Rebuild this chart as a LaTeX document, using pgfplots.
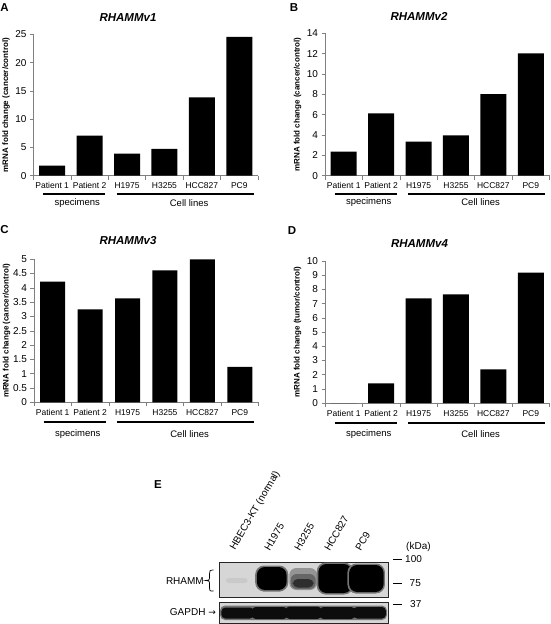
\documentclass[border=0pt]{standalone}
\usepackage{pgfplots}
\pgfplotsset{compat=1.18}
\usepackage{fontspec}
\setmainfont{Liberation Sans}
\newfontfamily\dejavu{DejaVu Sans}
\newcommand{\fs}[1]{\fontsize{#1}{#1}\selectfont}
\pgfplotsset{
  bc/.style={
    scale only axis, width=224.5pt, height=142pt, anchor=south west,
    xmin=-0.5, xmax=5.5, ymin=0,
    axis x line*=bottom, axis y line*=left,
    axis line style={draw=black!50, line width=0.6pt},
    tick align=outside,
    xtick={0,...,5},
    xticklabels={Patient 1,Patient 2,H1975,H3255,HCC827,PC9},
    major x tick style={draw=none},
    minor xtick={-0.5,0.5,...,5.5},
    minor x tick style={draw=black!50, line width=0.6pt},
    minor tick length=4pt,
    major tick length=3.5pt,
    ytick style={draw=black!50, line width=0.6pt},
    /pgf/number format/assume math mode=true,
    yticklabel style={font=\fs{10}, text=black},
    xticklabel style={font=\fs{8.5}, anchor=base, yshift=-9.5pt},
    every axis y label/.style={at={(axis description cs:-0.122,0.5)}, rotate=90, anchor=center,
      font=\bfseries\fs{8}},
    clip=false,
    ybar, bar width=26pt,
  },
  bar/.style={fill=black, draw=none},
}
\newcommand{\groups}[2]{%
  \draw[line width=1.8pt] ([yshift=-#1pt]axis cs:-0.24,0) -- ([yshift=-#1pt]axis cs:1.42,0);
  \draw[line width=1.8pt] ([yshift=-#1pt]axis cs:1.72,0) -- ([yshift=-#1pt]axis cs:5.38,0);
  \node[font=\fs{9.5}] at ([yshift=-#2pt]axis cs:0.67,0) {specimens};
  \node[font=\fs{9.5}] at ([yshift=-#2pt]axis cs:3.66,0) {Cell lines};
}
\begin{document}
\begin{tikzpicture}[x=1pt,y=1pt]
\useasboundingbox (0pt,0pt) rectangle (550pt,-624pt);

% ---------- A ----------
\begin{axis}[bc, at={(33.5pt,-175.7pt)}, height=141.4pt, ymax=25, ytick={0,5,...,25},
  ylabel={mRNA fold change (cancer/control)}]
\addplot[bar] coordinates {(0,1.8) (1,7.1) (2,3.9) (3,4.75) (4,13.85) (5,24.55)};
\groups{18.3}{27.6}
\end{axis}

% ---------- B ----------
\begin{axis}[bc, at={(325pt,-175.7pt)}, height=142.4pt, ymax=14, ytick={0,2,...,14},
  ylabel={mRNA fold change (cancer/control)}]
\addplot[bar] coordinates {(0,2.36) (1,6.13) (2,3.34) (3,3.97) (4,8.02) (5,12.03)};
\groups{18.6}{26.8}
\end{axis}

% ---------- C ----------
\begin{axis}[bc, at={(34pt,-402.3pt)}, height=143pt, bar width=25pt, ymax=5, ytick={0,0.5,...,5},
  ylabel={mRNA fold change (cancer/control)}]
\addplot[bar] coordinates {(0,4.22) (1,3.25) (2,3.63) (3,4.61) (4,5.0) (5,1.24)};
\groups{20}{31.3}
\end{axis}

% ---------- D ----------
\begin{axis}[bc, at={(325pt,-403pt)}, height=142pt, ymax=10, ytick={0,1,...,10},
  ylabel={mRNA fold change (tumor/control)}]
\addplot[bar] coordinates {(0,0) (1,1.39) (2,7.37) (3,7.65) (4,2.37) (5,9.18)};
\groups{19.7}{31}
\end{axis}

% titles and panel letters
\node[font=\bfseries\itshape\fs{11.5}] at (128pt,-17.5pt) {RHAMMv1};
\node[font=\bfseries\itshape\fs{11.5}] at (419pt,-16pt) {RHAMMv2};
\node[font=\bfseries\itshape\fs{11.5}] at (128pt,-240.5pt) {RHAMMv3};
\node[font=\bfseries\itshape\fs{11.5}] at (419.5pt,-244pt) {RHAMMv4};
\node[font=\bfseries\fs{11.5}] at (4.5pt,-7.5pt) {A};
\node[font=\bfseries\fs{11.5}] at (294pt,-7.5pt) {B};
\node[font=\bfseries\fs{11.5}] at (4.5pt,-229.5pt) {C};
\node[font=\bfseries\fs{11.5}] at (292pt,-231pt) {D};
\node[font=\bfseries\fs{11.5}] at (158pt,-485pt) {E};

% ---------- E : RHAMM blot ----------
\begin{axis}[scale only axis, width=169pt, height=35pt, at={(219pt,-597pt)}, anchor=south west,
  xmin=0, xmax=5, ymin=0, ymax=35, xtick=\empty, ytick=\empty,
  axis line style={draw=black!85, line width=0.8pt},
  axis background/.style={fill=black!16}, clip=true]
\addplot[fill=black!21, draw=none, rounded corners=3pt] coordinates {(0.5,14)(0.85,14)(0.85,19)(0.2,19)(0.2,14)} -- cycle;
% H1975
\addplot[fill=black!55, draw=none, rounded corners=9pt] coordinates {(1.56,5.5)(2.05,5.5)(2.05,31.5)(1.07,31.5)(1.07,5.5)} -- cycle;
\addplot[fill=black, draw=none, rounded corners=8pt] coordinates {(1.56,7)(2.0,7)(2.0,30)(1.12,30)(1.12,7)} -- cycle;
% H3255
\addplot[fill=black!42, draw=none, rounded corners=7pt] coordinates {(2.5,7)(2.9,7)(2.9,29)(2.08,29)(2.08,7)} -- cycle;
\addplot[fill=black!60, draw=none, rounded corners=6pt] coordinates {(2.5,8)(2.86,8)(2.86,23)(2.12,23)(2.12,8)} -- cycle;
\addplot[fill=black!82, draw=none, rounded corners=5pt] coordinates {(2.5,9.5)(2.8,9.5)(2.8,18)(2.18,18)(2.18,9.5)} -- cycle;
% HCC827
\addplot[fill=black!55, draw=none, rounded corners=9pt] coordinates {(3.4,2.5)(3.97,2.5)(3.97,34.5)(2.89,34.5)(2.89,2.5)} -- cycle;
\addplot[fill=black, draw=none, rounded corners=8pt] coordinates {(3.4,4)(3.93,4)(3.93,33)(2.94,33)(2.94,4)} -- cycle;
% PC9
\addplot[fill=black!55, draw=none, rounded corners=9pt] coordinates {(4.3,3.5)(4.91,3.5)(4.91,33.5)(3.8,33.5)(3.8,3.5)} -- cycle;
\addplot[fill=black, draw=none, rounded corners=8pt] coordinates {(4.3,5)(4.87,5)(4.87,32)(3.85,32)(3.85,5)} -- cycle;
\end{axis}

% ---------- E : GAPDH blot ----------
\begin{axis}[scale only axis, width=169pt, height=21.5pt, at={(219pt,-623.5pt)}, anchor=south west,
  xmin=0, xmax=5, ymin=0, ymax=21.5, xtick=\empty, ytick=\empty,
  axis line style={draw=black!85, line width=0.8pt},
  axis background/.style={fill=black!16}, clip=true]
\addplot[fill=black!55, draw=none, rounded corners=5pt] coordinates {(2.5,3.5)(4.97,3.5)(4.97,18)(0.03,18)(0.03,3.5)} -- cycle;
\addplot[fill=black!95, draw=none, rounded corners=4pt] coordinates {(0.5,5)(1.03,5)(1.03,16)(0.07,16)(0.07,5)} -- cycle;
\addplot[fill=black!95, draw=none, rounded corners=4pt] coordinates {(1.5,4.5)(2.03,4.5)(2.03,16.5)(0.97,16.5)(0.97,4.5)} -- cycle;
\addplot[fill=black!95, draw=none, rounded corners=4pt] coordinates {(2.5,4.5)(3.03,4.5)(3.03,17)(1.97,17)(1.97,4.5)} -- cycle;
\addplot[fill=black!95, draw=none, rounded corners=4pt] coordinates {(3.5,4.5)(4.03,4.5)(4.03,16.5)(2.97,16.5)(2.97,4.5)} -- cycle;
\addplot[fill=black!95, draw=none, rounded corners=4pt] coordinates {(4.5,5)(4.94,5)(4.94,16.5)(3.97,16.5)(3.97,5)} -- cycle;
\end{axis}

% blot labels
\foreach \x/\t in {237/{HBEC3-KT (normal)}, 270/H1975, 300/H3255, 330/HCC827, 361/PC9}
  \node[rotate=60, anchor=south west, inner sep=0pt, font=\fs{10}] at (\x pt,-552pt) {\t};
\node[anchor=east, inner sep=0pt, font=\fs{10}] at (204pt,-581pt) {RHAMM};
\draw[line width=0.7pt] (213.5pt,-570pt) .. controls (209.5pt,-570pt) and (209.5pt,-571pt) .. (209.5pt,-574pt)
  -- (209.5pt,-578pt) .. controls (209.5pt,-580pt) .. (205.5pt,-580.5pt)
  .. controls (209.5pt,-581pt) .. (209.5pt,-583pt) -- (209.5pt,-588pt)
  .. controls (209.5pt,-591pt) and (209.5pt,-591pt) .. (213.5pt,-591pt);
\node[anchor=east, inner sep=0pt, font=\fs{10}] at (216pt,-612pt) {GAPDH {\dejavu\fs{9}→}};
\draw[line width=0.9pt] (393pt,-559pt) -- (402pt,-559pt);
\draw[line width=0.9pt] (393pt,-583pt) -- (402pt,-583pt);
\draw[line width=0.9pt] (393pt,-604pt) -- (402pt,-604pt);
\node[anchor=west, inner sep=0pt, font=\fs{10}] at (405pt,-559pt) {100};
\node[anchor=west, inner sep=0pt, font=\fs{10}] at (409.5pt,-583pt) {75};
\node[anchor=west, inner sep=0pt, font=\fs{10}] at (410pt,-604pt) {37};
\node[anchor=west, inner sep=0pt, font=\fs{10}] at (406pt,-547pt) {(kDa)};
\end{tikzpicture}
\end{document}
